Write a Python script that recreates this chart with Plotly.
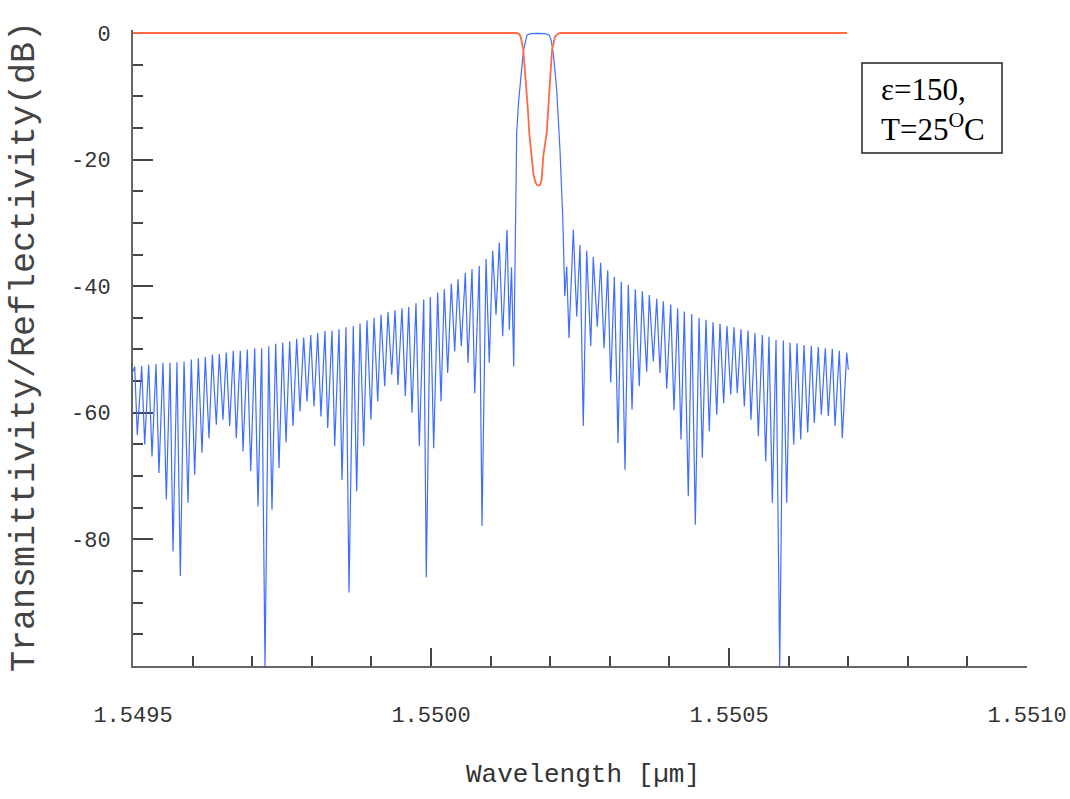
import plotly.graph_objects as go

# ---------------- data (wavelength in um, level in dB) ----------------
# Reflectivity (blue): left side-lobe peaks
left_peak_wl = [1.5495029, 1.5495146, 1.5495263, 1.5495386, 1.5495503, 1.5495621, 1.5495738, 1.5495856,
                1.5495978, 1.5496096, 1.5496213, 1.5496331, 1.5496448, 1.5496565, 1.5496683, 1.5496800,
                1.5496918, 1.5497042, 1.5497159, 1.5497277, 1.5497394, 1.5497512, 1.5497629, 1.5497747,
                1.5497864, 1.5497982, 1.5498099, 1.5498221, 1.5498339, 1.5498456, 1.5498574, 1.5498696,
                1.5498809, 1.5498926, 1.5499044, 1.5499161, 1.5499279, 1.5499396, 1.5499513, 1.5499626,
                1.5499748, 1.5499878, 1.5499988, 1.5500112, 1.5500223, 1.5500341, 1.5500453, 1.5500576,
                1.5500688, 1.5500810, 1.5500923, 1.5501035, 1.5501146, 1.5501275]
left_peak_db = [-52.7, -52.6, -52.4, -52.3, -52.1, -52.1, -52.0, -51.9,
                -51.6, -51.4, -51.2, -50.8, -50.7, -50.5, -50.2, -50.2,
                -50.0, -49.8, -49.8, -49.5, -49.1, -48.9, -48.7, -48.3,
                -48.1, -47.7, -47.4, -47.1, -47.0, -46.8, -46.5, -46.3,
                -45.9, -45.4, -45.0, -44.5, -44.1, -43.8, -43.5, -43.3,
                -42.7, -42.1, -41.7, -41.0, -40.5, -39.6, -38.9, -37.9,
                -37.3, -36.8, -35.7, -34.4, -33.1, -31.1]
# left side-lobe nulls (first entry = start of trace)
left_null_wl = [1.5495000, 1.5495072, 1.5495196, 1.5495319, 1.5495436, 1.5495559, 1.5495671, 1.5495794,
                1.5495923, 1.5496035, 1.5496158, 1.5496275, 1.5496398, 1.5496510, 1.5496622, 1.5496733,
                1.5496846, 1.5496975, 1.5497097, 1.5497215, 1.5497332, 1.5497450, 1.5497567, 1.5497685,
                1.5497802, 1.5497920, 1.5498037, 1.5498154, 1.5498267, 1.5498384, 1.5498507, 1.5498624,
                1.5498753, 1.5498871, 1.5498993, 1.5499106, 1.5499223, 1.5499341, 1.5499446, 1.5499569,
                1.5499681, 1.5499804, 1.5499921, 1.5500045, 1.5500168, 1.5500280, 1.5500398, 1.5500508,
                1.5500621, 1.5500733, 1.5500856, 1.5500978, 1.5501091, 1.5501203, 1.5501314]
left_null_db = [-53.5, -63.5, -65.0, -66.9, -69.5, -73.7, -81.9, -85.8,
                -74.2, -69.8, -66.3, -64.0, -61.9, -61.1, -62.1, -64.0,
                -66.1, -69.2, -74.8, -100.0, -75.3, -68.7, -64.7, -62.1,
                -59.8, -58.2, -59.0, -60.6, -62.4, -65.3, -70.6, -88.4,
                -72.4, -65.3, -61.1, -58.2, -55.8, -54.0, -55.6, -57.4,
                -60.0, -65.3, -86.0, -65.6, -58.2, -53.7, -50.3, -49.5,
                -52.1, -56.9, -77.9, -52.1, -44.5, -47.9, -46.9]
# main reflection band
main_wl = [1.5501351, 1.5501388, 1.5501409, 1.5501438, 1.5501470, 1.5501502, 1.5501552, 1.5501611,
           1.5501678, 1.5501795, 1.5501913, 1.5501980, 1.5502013, 1.5502052, 1.5502109, 1.5502164,
           1.5502210, 1.5502245, 1.5502277]
main_db = [-37.0, -52.7, -34.3, -15.8, -10.8, -7.9, -2.7, -0.3,
           -0.1, -0.05, -0.1, -0.3, -1.0, -3.2, -9.0, -18.5,
           -29.0, -41.6, -36.9]
# right side-lobe peaks
right_peak_wl = [1.5502388, 1.5502500, 1.5502612, 1.5502723, 1.5502847, 1.5502965, 1.5503076, 1.5503193,
                 1.5503310, 1.5503428, 1.5503545, 1.5503663, 1.5503787, 1.5503898, 1.5504022, 1.5504139,
                 1.5504250, 1.5504374, 1.5504497, 1.5504614, 1.5504732, 1.5504849, 1.5504966, 1.5505084,
                 1.5505201, 1.5505319, 1.5505436, 1.5505559, 1.5505671, 1.5505789, 1.5505911, 1.5506024,
                 1.5506141, 1.5506258, 1.5506381, 1.5506498, 1.5506616, 1.5506733, 1.5506851, 1.5506975]
right_peak_db = [-31.1, -33.5, -34.4, -35.4, -36.3, -37.5, -38.5, -39.3,
                 -39.8, -40.5, -40.8, -41.4, -42.0, -42.4, -42.9, -43.5,
                 -44.0, -44.4, -45.0, -45.3, -45.7, -45.9, -46.3, -46.5,
                 -46.8, -47.0, -47.4, -47.7, -48.0, -48.5, -48.6, -48.9,
                 -49.0, -49.3, -49.4, -49.6, -49.8, -49.9, -50.2, -50.5]
# right side-lobe nulls (last entry = end of trace)
right_null_wl = [1.5502315, 1.5502445, 1.5502555, 1.5502680, 1.5502790, 1.5502903, 1.5503015, 1.5503138,
                 1.5503255, 1.5503373, 1.5503495, 1.5503619, 1.5503730, 1.5503842, 1.5503955, 1.5504077,
                 1.5504195, 1.5504317, 1.5504435, 1.5504552, 1.5504669, 1.5504794, 1.5504911, 1.5505029,
                 1.5505139, 1.5505257, 1.5505369, 1.5505492, 1.5505616, 1.5505727, 1.5505851, 1.5505968,
                 1.5506086, 1.5506203, 1.5506320, 1.5506431, 1.5506549, 1.5506666, 1.5506779, 1.5506901,
                 1.5507002]
right_null_db = [-48.2, -44.8, -62.1, -49.5, -46.4, -49.8, -55.2, -64.8,
                 -69.0, -59.5, -55.8, -53.5, -51.9, -53.7, -56.2, -59.6,
                 -64.2, -73.2, -77.7, -67.1, -62.9, -60.3, -58.5, -57.1,
                 -56.9, -59.0, -61.1, -63.7, -67.7, -74.2, -100.0, -74.2,
                 -65.0, -64.2, -63.1, -61.6, -60.3, -60.5, -62.1, -64.0,
                 -53.2]

# Transmittivity (red)
trans_wl = [1.5495000, 1.5501438, 1.5501480, 1.5501505, 1.5501549, 1.5501594, 1.5501625, 1.5501649,
            1.5501685, 1.5501717, 1.5501753, 1.5501780, 1.5501804, 1.5501830, 1.5501854, 1.5501884,
            1.5501941, 1.5501997, 1.5502030, 1.5502081, 1.5502120, 1.5502164, 1.5506980]
trans_db = [0.0, 0.0, -0.2, -0.6, -2.7, -7.9, -12.0, -15.8,
            -19.5, -22.2, -23.6, -24.0, -24.1, -24.0, -23.3, -19.5,
            -15.8, -7.9, -2.7, -0.6, -0.2, 0.0, 0.0]

x_tickvals = [1.5495, 1.5500, 1.5505, 1.5510]
x_ticktext = ["1.5495", "1.5500", "1.5505", "1.5510"]
y_tickvals = [0, -20, -40, -60, -80]
y_ticktext = ["0", "-20", "-40", "-60", "-80"]

# ---------------- build reflectivity trace ----------------
pts = sorted(zip(left_peak_wl + left_null_wl + main_wl + right_peak_wl + right_null_wl,
                 left_peak_db + left_null_db + main_db + right_peak_db + right_null_db))
refl_wl = [p[0] for p in pts]
refl_db = [p[1] for p in pts]

fig = go.Figure()
fig.add_trace(go.Scatter(x=refl_wl, y=refl_db, mode="lines",
                         line=dict(color="#3f6dff", width=1.2), showlegend=False))
fig.add_trace(go.Scatter(x=trans_wl, y=trans_db, mode="lines",
                         line=dict(color="#ff6a45", width=1.8), showlegend=False))

mono = "Liberation Mono, DejaVu Sans Mono, monospace"
W, H = 1070, 799
L, R, T, B = 133, 43, 30, 133
pw, ph = W - L - R, H - T - B

def px(xp):
    return (xp - L) / pw

def py(yp):
    return (H - B - yp) / ph

fig.update_layout(
    width=W, height=H,
    margin=dict(l=L, r=R, t=T, b=B, autoexpand=False),
    paper_bgcolor="white", plot_bgcolor="white",
    xaxis=dict(range=[1.5495, 1.5510], tickmode="array", tickvals=x_tickvals, ticktext=x_ticktext,
               automargin=False, layer="below traces",
               showgrid=False, zeroline=False, showline=True, linecolor="#666", linewidth=2,
               ticks="inside", ticklen=18, tickwidth=1.5, tickcolor="#444",
               tickfont=dict(family=mono, size=22, color="#333"), ticklabelstandoff=28,
               minor=dict(tickmode="linear", tick0=1.5495, dtick=0.0001, ticks="inside",
                          ticklen=10, tickwidth=1.5, tickcolor="#444", showgrid=False)),
    yaxis=dict(range=[-100, 0.47], tickmode="array", tickvals=y_tickvals, ticktext=y_ticktext,
               automargin=False, layer="below traces",
               showgrid=False, zeroline=False, showline=True, linecolor="#666", linewidth=2,
               ticks="inside", ticklen=20, tickwidth=2, tickcolor="#444",
               tickfont=dict(family=mono, size=22, color="#333"), ticklabelstandoff=16,
               minor=dict(tickmode="linear", tick0=0, dtick=5, ticks="inside",
                          ticklen=10, tickwidth=2, tickcolor="#444", showgrid=False)),
    shapes=[
        dict(type="rect", xref="paper", yref="paper",
             x0=px(862), x1=px(1002), y0=py(153), y1=py(63),
             line=dict(color="#222", width=1.5), fillcolor="white", layer="above"),
    ],
    annotations=[
        dict(text="Wavelength [µm]", xref="paper", yref="paper",
             x=px(583), y=py(775), xanchor="center", yanchor="middle",
             showarrow=False, font=dict(family=mono, size=26, color="#333")),
        dict(text="Transmittivity/Reflectivity(dB)", xref="paper", yref="paper",
             x=px(25), y=py(347), xanchor="center", yanchor="middle",
             textangle=-90, showarrow=False, font=dict(family=mono, size=35, color="#444")),
        dict(text="ε=150,<br>T=25<sup>O</sup>C", xref="paper", yref="paper",
             x=px(879), y=py(109), xanchor="left", yanchor="middle",
             showarrow=False, align="left",
             font=dict(family="Liberation Serif, Times New Roman, serif", size=31, color="black")),
    ],
)

fig.write_html("out.html")
